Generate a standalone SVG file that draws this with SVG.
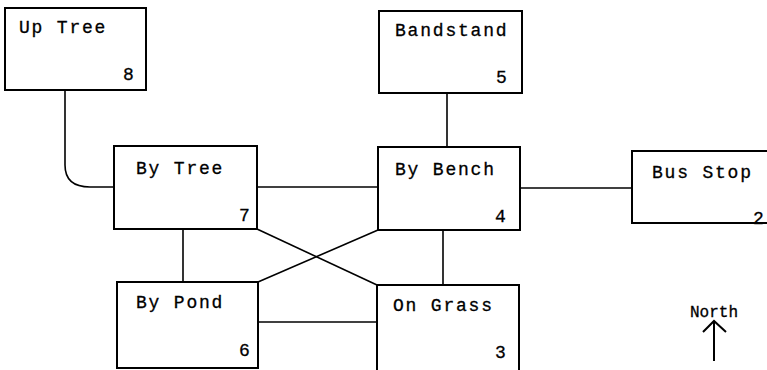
<svg xmlns="http://www.w3.org/2000/svg" width="767" height="370" viewBox="0 0 767 370">
<style>
.box{fill:#fff;stroke:#000;stroke-width:2}
.ln{fill:none;stroke:#000;stroke-width:1.6}
text{font-family:"Liberation Mono","DejaVu Sans Mono",monospace;font-size:18px;letter-spacing:1.8px;fill:#000;stroke:#000;stroke-width:0.3}
</style>
<rect width="767" height="370" fill="#fff"/>
<g id="connectors">
<path class="ln" d="M65,90 V165 Q65,187 90,187 H114"/>
<path class="ln" d="M257,187 H378"/>
<path class="ln" d="M447,93 V147"/>
<path class="ln" d="M520,188 H632"/>
<path class="ln" d="M183,229 V282"/>
<path class="ln" d="M443,230 V285"/>
<path class="ln" d="M257,229 L377,285"/>
<path class="ln" d="M378,230 L258,282"/>
<path class="ln" d="M258,322 H377"/>
</g>
<g id="uptree"><rect class="box" x="5" y="8" width="141" height="82"/><text x="19" y="33">Up Tree</text><text x="123" y="80">8</text></g>
<g id="bandstand"><rect class="box" x="379" y="11" width="143" height="82"/><text x="395" y="36">Bandstand</text><text x="496" y="83">5</text></g>
<g id="bytree"><rect class="box" x="114" y="146" width="143" height="83"/><text x="136" y="174">By Tree</text><text x="239" y="221">7</text></g>
<g id="bybench"><rect class="box" x="378" y="147" width="142" height="83"/><text x="395" y="175">By Bench</text><text x="495" y="222">4</text></g>
<g id="busstop"><rect class="box" x="632" y="151" width="140" height="72"/><text x="652" y="178">Bus Stop</text><text x="753" y="224">2</text></g>
<g id="bypond"><rect class="box" x="117" y="282" width="141" height="86"/><text x="136" y="308">By Pond</text><text x="239" y="356">6</text></g>
<g id="ongrass"><rect class="box" x="377" y="285" width="142" height="90"/><text x="393" y="311">On Grass</text><text x="495" y="358">3</text></g>
<g id="north"><text x="690" y="317" style="font-size:16px;letter-spacing:0px">North</text>
<line x1="714" y1="361" x2="714" y2="321" stroke="#000" stroke-width="2"/>
<polyline points="703,332 714,321 726,332" fill="none" stroke="#000" stroke-width="2"/></g>
</svg>
